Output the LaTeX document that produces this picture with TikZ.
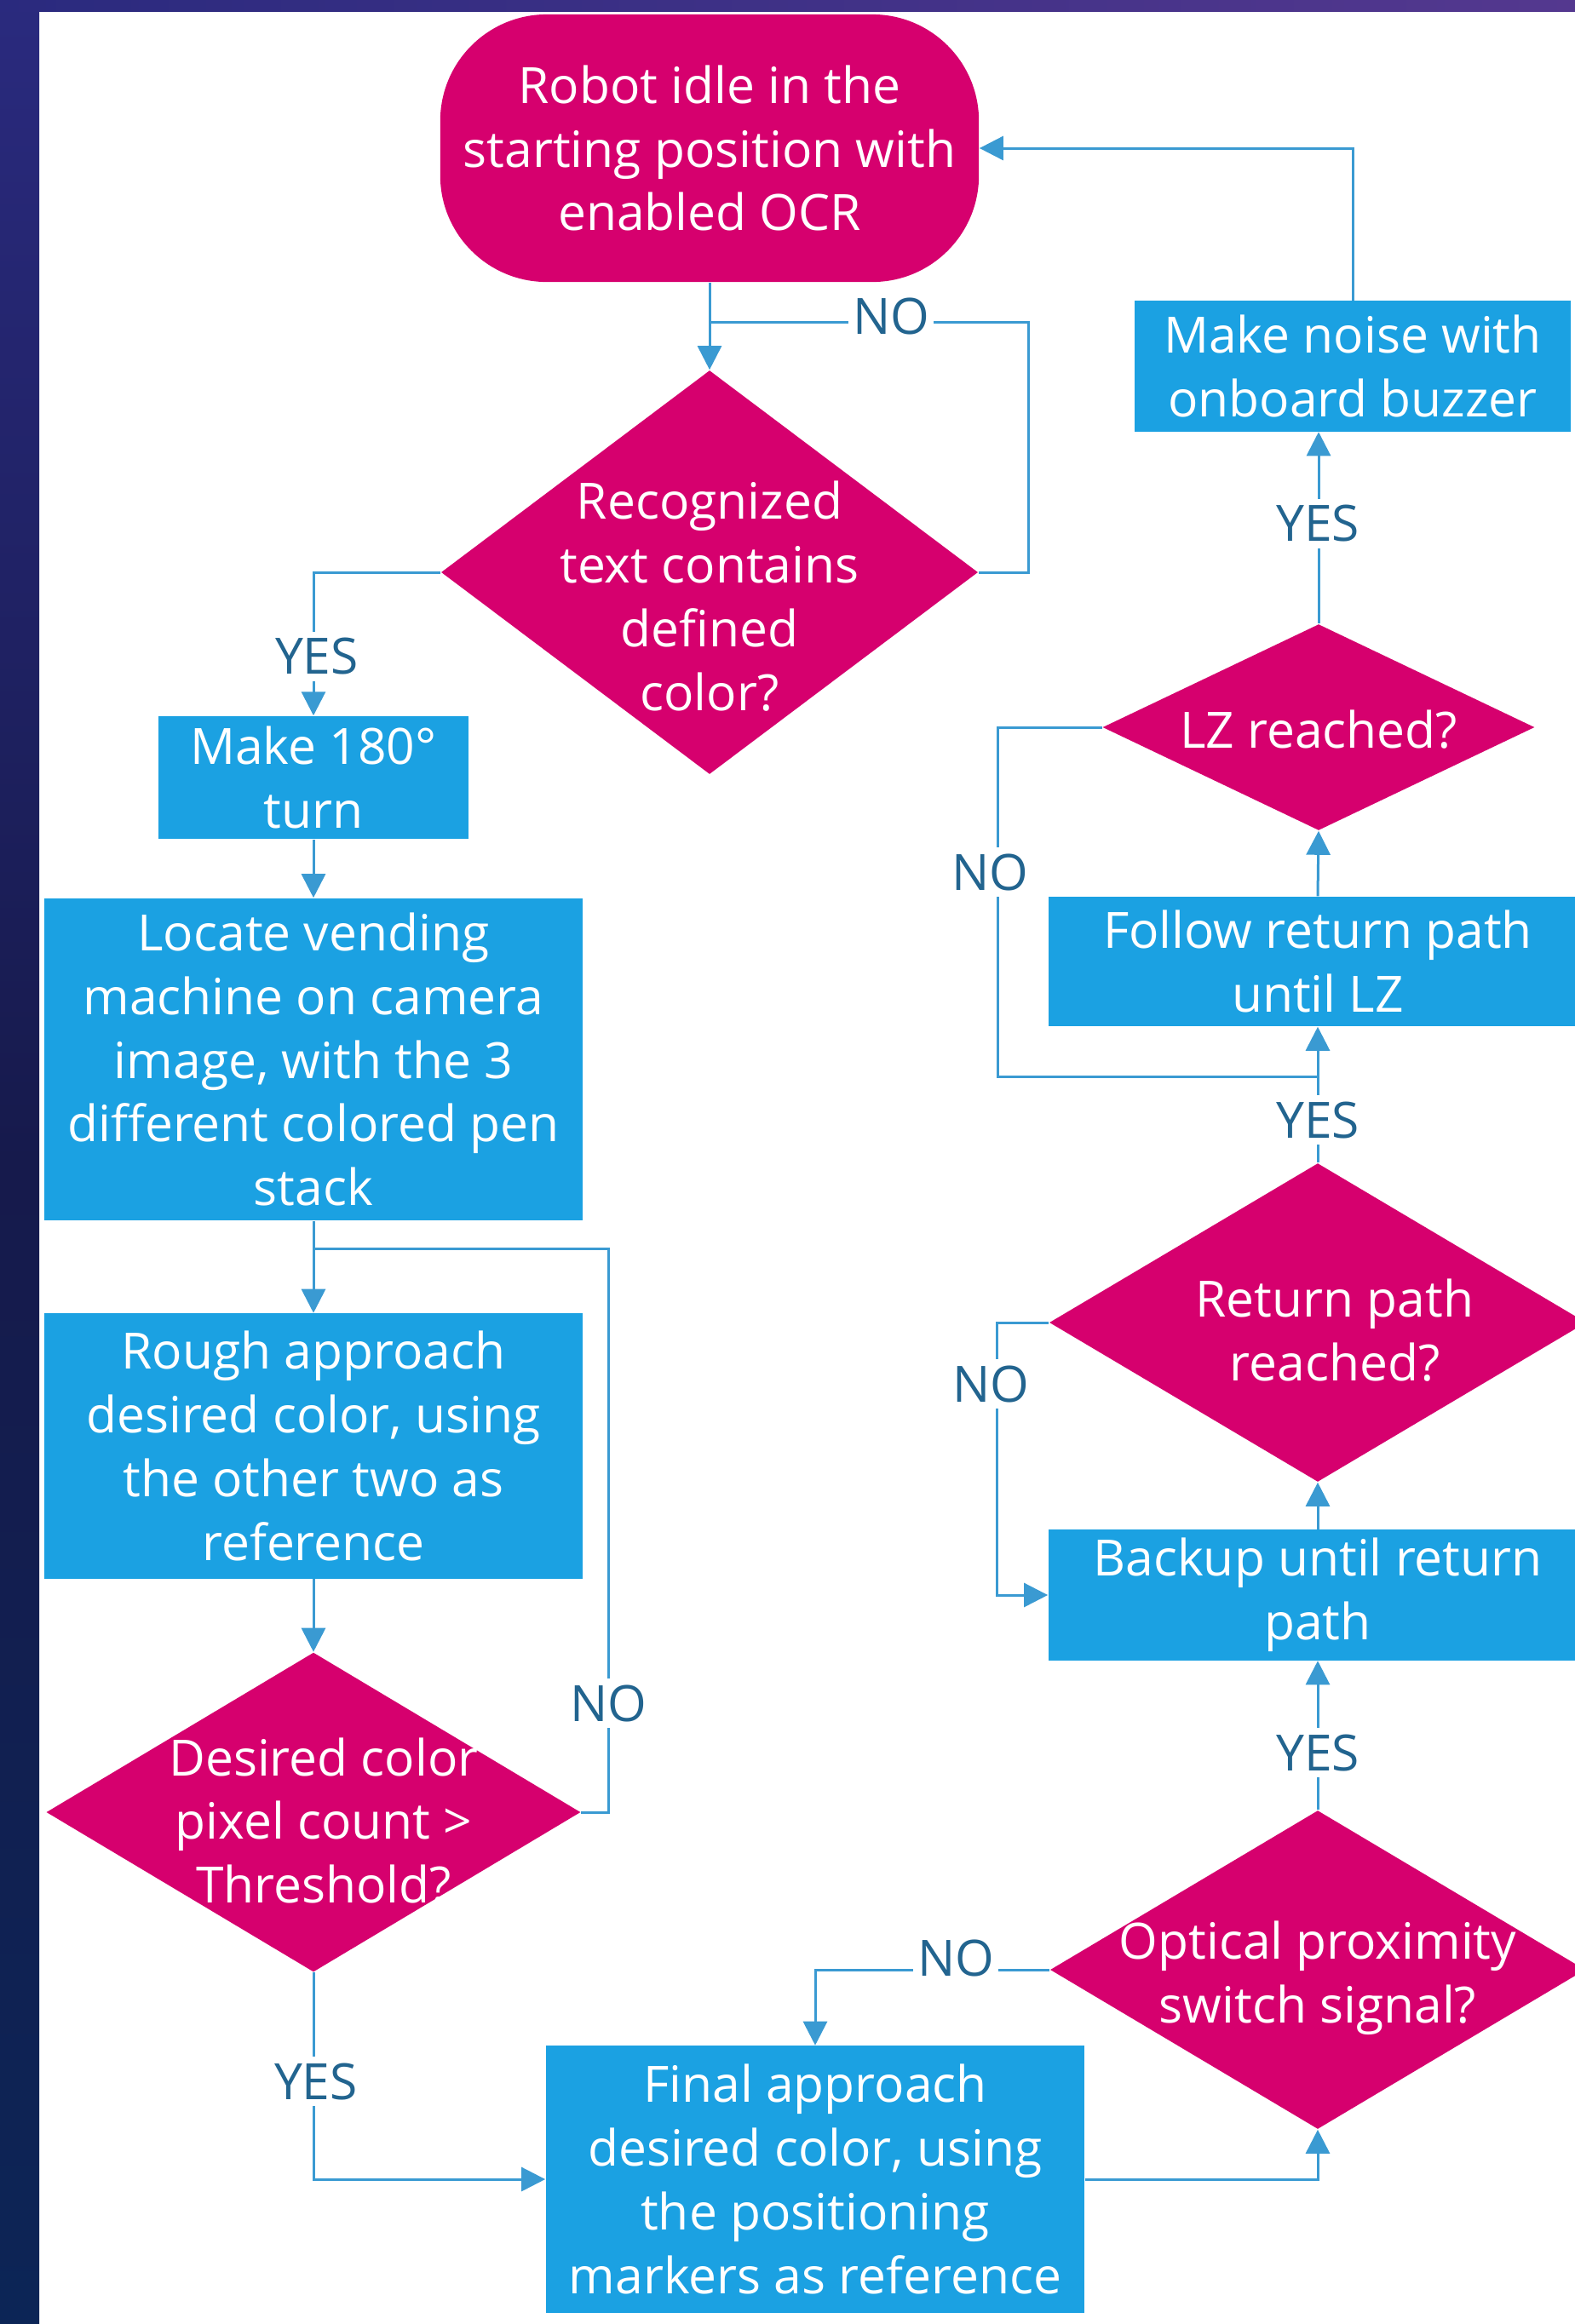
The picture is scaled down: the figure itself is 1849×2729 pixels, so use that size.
\documentclass[tikz,border=0pt]{standalone}
\usepackage{fontspec}
\setmainfont{Open Sans}
\usetikzlibrary{shapes.geometric,arrows.meta}
\definecolor{mag}{HTML}{D6006E}
\definecolor{boxblue}{HTML}{1BA1E2}
\definecolor{linec}{HTML}{3A9AD2}
\definecolor{labc}{HTML}{22648F}
\definecolor{bgA}{HTML}{2A2A7E}
\definecolor{bgB}{HTML}{54388F}
\definecolor{bgC}{HTML}{161A4C}
\definecolor{bgD}{HTML}{0C2556}
\begin{document}
\begin{tikzpicture}[x=0.01cm,y=-0.01cm,
  every node/.style={font=\fontsize{16.7}{21.3}\selectfont},
  proc/.style={rectangle, fill=boxblue, text=white, align=center, inner sep=0pt, minimum width=6.32cm},
  dec/.style={diamond, fill=mag, inner sep=0pt},
  dtext/.style={text=white, align=center, inner sep=0pt},
  conn/.style={draw=linec, line width=0.03cm},
  arr/.style={conn, -{Triangle[width=0.28cm,length=0.28cm]}},
  lab/.style={fill=white, text=labc, inner xsep=1.5pt, inner ysep=2pt}
]
\useasboundingbox (0,0) rectangle (1849,2729);
\clip (0,0) rectangle (1849,2729);
\fill[white] (0,0) rectangle (1849,2729);
\shade[top color=bgA, bottom color=bgD, middle color=bgC] (0,0) rectangle (46,2729);
\shade[left color=bgA, right color=bgB] (0,0) rectangle (1849,13);

% nodes
\node[rectangle, rounded corners=1.25cm, fill=mag, text=white, align=center,
      minimum width=6.32cm, minimum height=3.14cm, inner sep=0pt] (start) at (833,174)
      {Robot idle in the\\starting position with\\enabled OCR};
\node[dec, minimum width=6.30cm, minimum height=4.74cm] (d1) at (833,672) {};
\node[dtext] (d1t) at (833,700) {Recognized\\text contains\\defined\\color?};
\node[proc, minimum width=3.64cm, minimum height=1.44cm] (turn) at (368,913) {Make 180°\\turn};
\node[proc, minimum height=3.78cm] (locate) at (368,1244)
      {Locate vending\\machine on camera\\image, with the 3\\different colored pen\\stack};
\node[proc, minimum height=3.11cm] (rough) at (368,1698)
      {Rough approach\\desired color, using\\the other two as\\reference};
\node[dec, minimum width=6.27cm, minimum height=3.75cm] (thr) at (368,2128) {};
\node[dtext] (thrt) at (380,2138) {Desired color\\pixel count >\\Threshold?};
\node[proc, minimum height=3.13cm] (final) at (957,2559)
      {Final approach\\desired color, using\\the positioning\\markers as reference};
\node[dec, minimum width=6.28cm, minimum height=3.74cm] (opt) at (1547,2313) {};
\node[dtext] (optt) at (1547,2323) {Optical proximity\\switch signal?};
\node[proc, minimum height=1.53cm] (backup) at (1547,1873) {Backup until return\\path};
\node[dec, minimum width=6.30cm, minimum height=3.74cm] (ret) at (1547,1553) {};
\node[dtext] (rett) at (1567,1562) {Return path\\reached?};
\node[proc, minimum height=1.52cm] (follow) at (1547,1129) {Follow return path\\until LZ};
\node[dec, minimum width=5.07cm, minimum height=2.42cm] (lz) at (1548,854) {};
\node[dtext] (lzt) at (1548,857) {LZ reached?};
\node[proc, minimum width=5.11cm, minimum height=1.53cm] (noise) at (1588,430)
      {Make noise with\\onboard buzzer};

% connectors
\coordinate (j1) at (833,378);
\coordinate (c1) at (1207,378);
\draw[arr] (start.south) -- (d1.north);
\draw[conn] (d1.east) -| (c1) -- (j1);
\draw[arr] (d1.west) -| (turn.north);
\draw[arr] (turn.south) -- (locate.north);
\draw[arr] (locate.south) -- (rough.north);
\draw[arr] (rough.south) -- (thr.north);
\coordinate (j2) at (368,1466);
\coordinate (c2) at (714,1466);
\draw[conn] (thr.east) -| (c2) -- (j2);
\draw[arr] (thr.south) |- (final.west);
\draw[arr] (final.east) -| (opt.south);
\draw[arr] (opt.west) -| (final.north);
\draw[arr] (opt.north) -- (backup.south);
\draw[arr] (backup.north) -- (ret.south);
\draw[arr] (ret.west) -| ([xshift=-0.6cm]backup.west) -- (backup.west);
\draw[arr] (ret.north) -- (follow.south);
\coordinate (j3) at (1547,1264);
\coordinate (c3) at (1171,1264);
\draw[conn] (lz.west) -| (c3) -- (j3);
\draw[arr] (follow.north) -- (lz.south);
\draw[arr] (lz.north) -- (lz.north |- noise.south);
\draw[arr] (noise.north) |- (start.east);

% labels
\node[lab] (no1) at (1046,371) {NO};
\node[lab] (yes1) at (372,771) {YES};
\node[lab] (no2) at (714,2000) {NO};
\node[lab] (yes2) at (371,2444) {YES};
\node[lab] (no3) at (1122,2299) {NO};
\node[lab] (yes3) at (1547,2058) {YES};
\node[lab] (no4) at (1163,1625) {NO};
\node[lab] (yes4) at (1547,1315) {YES};
\node[lab] (no5) at (1162,1024) {NO};
\node[lab] (yes5) at (1547,615) {YES};
\end{tikzpicture}
\end{document}
